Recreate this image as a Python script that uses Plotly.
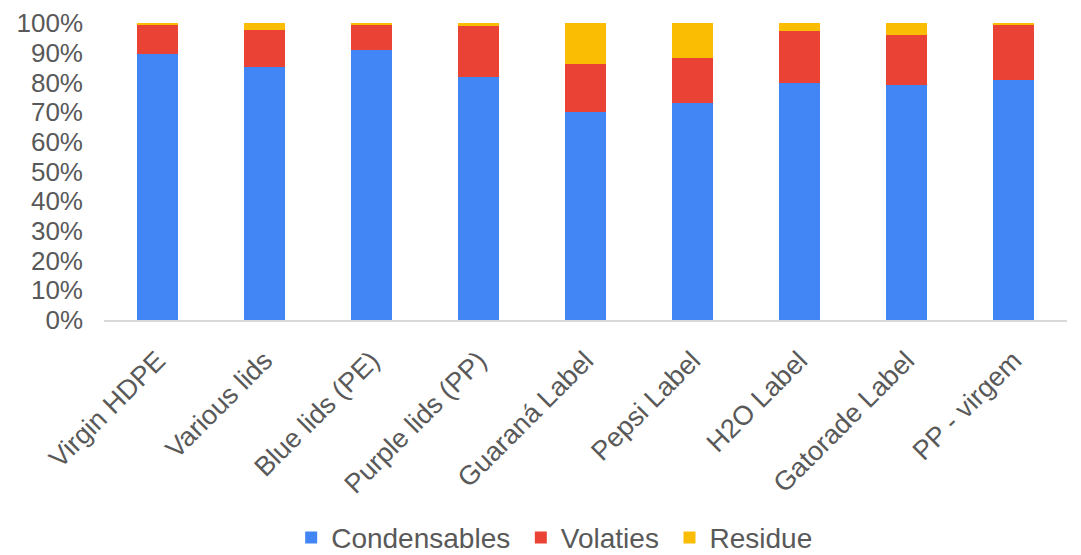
import plotly.graph_objects as go

# Sample categories
categories = [
    "Virgin HDPE", "Various lids", "Blue lids (PE)", "Purple lids (PP)",
    "Guaraná Label", "Pepsi Label", "H2O Label", "Gatorade Label", "PP - virgem",
]

# Mass fractions (%) for each product class
condensables = [89.5, 85.3, 90.9, 81.7, 70.0, 73.1, 79.7, 79.2, 80.7]
volatiles = [9.9, 12.2, 8.5, 17.3, 16.2, 15.2, 17.7, 16.8, 18.7]
residue = [0.6, 2.5, 0.6, 1.0, 13.8, 11.7, 2.6, 4.0, 0.6]

y_ticks = list(range(0, 101, 10))

series = [
    ("Condensables", condensables, "#4285F4"),
    ("Volaties", volatiles, "#EA4335"),
    ("Residue", residue, "#FBBC04"),
]

fig = go.Figure()
for i, (name, vals, color) in enumerate(series):
    # a thin space widens the gap between legend entries
    label = name + ("\u2009" if i < len(series) - 1 else "")
    fig.add_trace(go.Bar(
        x=categories, y=vals, name=label,
        marker=dict(color=color, line=dict(width=0)),
    ))

font_family = "Liberation Sans, Arial, sans-serif"
grey = "#595959"

fig.update_layout(
    width=1081, height=555,
    barmode="stack", bargap=0.61,
    plot_bgcolor="white", paper_bgcolor="white",
    margin=dict(l=104, r=14, t=23, b=235, autoexpand=False),
    font=dict(family=font_family, size=26, color=grey),
    showlegend=True,
    legend=dict(
        orientation="h", x=0.468, xanchor="center",
        y=-0.733, yanchor="middle", font=dict(size=28, color=grey),
        traceorder="normal", borderwidth=0,
    ),
    xaxis=dict(
        showline=True, linecolor="#d9d9d9", linewidth=2,
        tickangle=-45, showgrid=False, ticks="", automargin=False,
        tickfont=dict(size=27, color=grey), ticklabelstandoff=12,
    ),
    yaxis=dict(
        range=[0, 100], tickvals=y_ticks, ticktext=[f"{v}%" for v in y_ticks],
        showgrid=False, zeroline=False, showline=False, ticks="",
        automargin=False,
        tickfont=dict(size=26, color=grey), ticklabelstandoff=20,
    ),
)

fig.write_html("out.html")
